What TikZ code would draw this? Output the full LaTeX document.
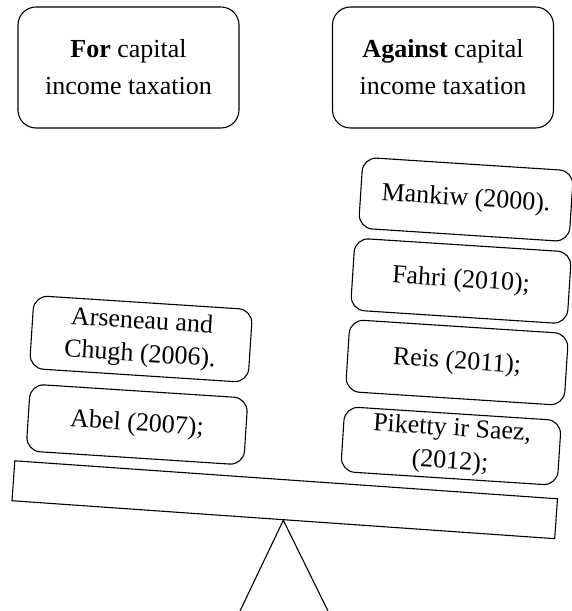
\documentclass[tikz,border=0pt]{standalone}
\usepackage{fontspec}
\setmainfont{Liberation Serif}
\usepackage{tikz}
\tikzstyle{box}=[draw, line width=1.1pt, rounded corners=18pt, align=center, inner sep=0pt, font=\fontsize{26}{37}\selectfont]
\tikzstyle{side}=[box, minimum width=221pt, minimum height=121pt]
\tikzstyle{ref}=[box, rounded corners=14pt, rotate=-3.7, font=\fontsize{26}{33}\selectfont]

\begin{document}
\begin{tikzpicture}[x=1pt, y=1pt, line width=1.1pt]
        \useasboundingbox (0,0) rectangle (571,611);
        \node[side] (For) at (128.5, 543.5) {\textbf{For} capital\\income taxation};
        \node[side] (Against) at (443, 543.5) {\textbf{Against} capital\\income taxation};
        \node[ref, minimum width=211pt, minimum height=71pt] (Mankiw) at (466, 411.5) {Mankiw (2000).};
        \node[ref, minimum width=217pt, minimum height=72pt] (Fahri) at (461, 330) {Fahri (2010);};
        \node[ref, minimum width=219pt, minimum height=72pt] (Reis) at (457, 248.5) {Reis (2011);};
        \node[ref, minimum width=217pt, minimum height=65pt] (Piketty) at (451, 165) {Piketty ir Saez,\\(2012);};
        \node[ref, minimum width=219pt, minimum height=73pt] (Arseneau) at (141, 272) {Arseneau and\\Chugh (2006).};
        \node[ref, minimum width=218pt, minimum height=67pt] (Abel) at (137, 186.5) {Abel (2007);};
        \node[draw, inner sep=0pt, minimum width=544pt, minimum height=40pt, rotate=-4] (beam) at (284.75, 111.25) {};
        \coordinate (footL) at (240, 0);
        \coordinate (footR) at (328, 0);
        \draw (footL) -- (beam.south) -- (footR);
    \end{tikzpicture}
\end{document}
